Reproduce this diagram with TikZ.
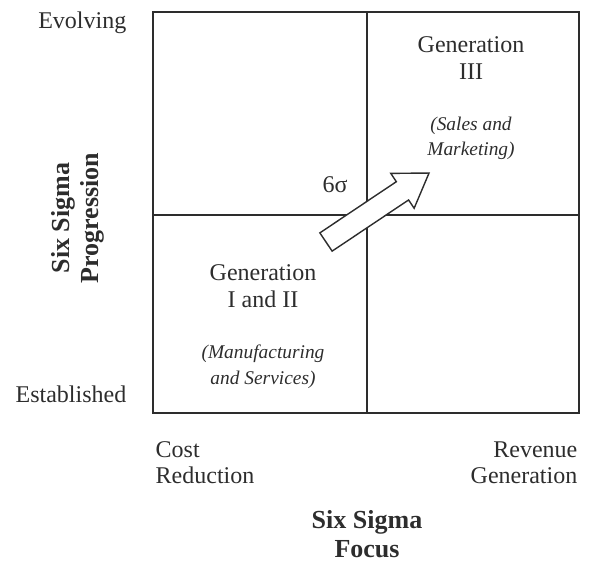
\documentclass[tikz,border=0pt]{standalone}
\usepackage{fontspec}
\setmainfont{Liberation Serif}
\usepackage{tikz}
\usetikzlibrary{positioning}
\definecolor{ink}{RGB}{45,45,45}

\begin{document}
\begin{tikzpicture}[x=0.5pt,y=-0.5pt,draw=ink,line width=0.7pt,
	axislabel/.style={font=\fontsize{12}{13}\selectfont,text=ink,inner sep=0pt},
	axistitle/.style={font=\fontsize{13}{14.5}\selectfont\bfseries,align=center,text=ink,inner sep=0pt},
	gen/.style={font=\fontsize{12}{13.5}\selectfont,align=center,text=ink,inner sep=0pt},
	market/.style={font=\fontsize{9.7}{12.8}\selectfont\itshape,align=center,text=ink,inner sep=0pt},
	bigarrow/.style={draw=ink,fill=white,line width=0.7pt,line join=miter}]
	\useasboundingbox (0,0) rectangle (589,564);

	% grid
	\coordinate			(sw)	at (153,413);
	\coordinate			(ne)	at (579,12);
	\coordinate			(midtop)	at (367,12);
	\coordinate			(midbot)	at (367,413);
	\coordinate			(midleft)	at (153,215);
	\coordinate			(midright)	at (579,215);
	\draw (sw) rectangle (ne);
	\draw (midtop) -- (midbot);
	\draw (midleft) -- (midright);

	% quadrants
	\node[gen]			(gen3)							at (471,58)		{Generation\\III};
	\node[market]		(sales)		[below=18pt of gen3]					{(Sales and\\Marketing)};
	\node[gen]			(gen12)							at (263,286)	{Generation\\I and II};
	\node[market]		(manuf)		[below=18pt of gen12]					{(Manufacturing\\and Services)};
	\node[gen]			(sigma)							at (335,185)	{6σ};

	% arrow
	\draw[bigarrow,shift={(326,242)},rotate=33.8]
		(0,-11) -- (92,-11) -- (92,-21) -- (124,0) -- (92,21) -- (92,11) -- (0,11) -- cycle;

	% axes
	\node[axislabel,anchor=base east]	(evolving)		at (127,28)		{Evolving};
	\node[axislabel,anchor=base east]	(established)	at (127,402)	{Established};
	\node[axistitle,rotate=90]			(progression)	at (78,218)		{Six Sigma\\Progression};
	\node[axislabel,align=left,anchor=base west]	(cost)		at (155,483)	{Cost\\Reduction};
	\node[axislabel,align=right,anchor=base east]	(revenue)	at (578,483)	{Revenue\\Generation};
	\node[axistitle,anchor=base]		(focus)			at (367,557)	{Six Sigma\\Focus};
\end{tikzpicture}
\end{document}
